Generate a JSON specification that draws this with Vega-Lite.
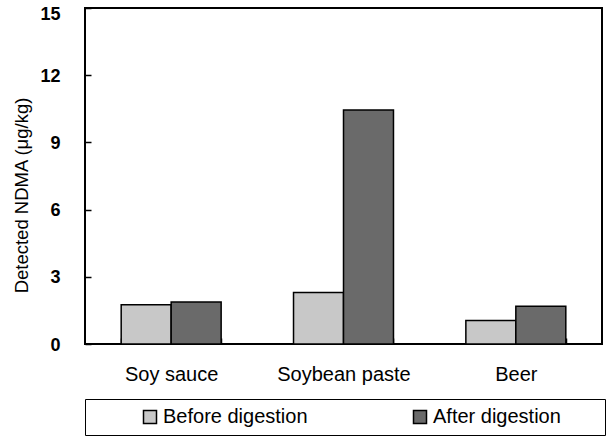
{
  "$schema": "https://vega.github.io/schema/vega-lite/v6.json",
  "width": 517,
  "height": 336,
  "autosize": {"type": "none"},
  "padding": {"left": 85, "top": 8, "right": 4, "bottom": 92},
  "background": "white",
  "config": {
    "font": "Liberation Sans",
    "view": {"stroke": "black", "strokeWidth": 2}
  },
  "data": {
    "values": [
      {"food": "Soy sauce", "stage": "Before digestion", "ndma": 1.75},
      {"food": "Soy sauce", "stage": "After digestion", "ndma": 1.88},
      {"food": "Soybean paste", "stage": "Before digestion", "ndma": 2.3},
      {"food": "Soybean paste", "stage": "After digestion", "ndma": 10.45},
      {"food": "Beer", "stage": "Before digestion", "ndma": 1.05},
      {"food": "Beer", "stage": "After digestion", "ndma": 1.68}
    ]
  },
  "mark": {"type": "bar", "stroke": "black", "strokeWidth": 1.5},
  "encoding": {
    "x": {
      "field": "food",
      "type": "nominal",
      "sort": ["Soy sauce", "Soybean paste", "Beer"],
      "scale": {"paddingInner": 0.42, "paddingOuter": 0.21},
      "axis": {
        "title": null,
        "labelAngle": 0,
        "labelFontSize": 20,
        "labelColor": "black",
        "labelPadding": 26,
        "tickBand": "extent",
        "tickSize": -6,
        "tickColor": "black",
        "tickWidth": 1.5,
        "domain": false
      }
    },
    "xOffset": {
      "field": "stage",
      "type": "nominal",
      "sort": ["Before digestion", "After digestion"],
      "scale": {"paddingInner": 0, "paddingOuter": 0}
    },
    "y": {
      "field": "ndma",
      "type": "quantitative",
      "scale": {"domain": [0, 15], "nice": false},
      "axis": {
        "values": [0, 3, 6, 9, 12, 15],
        "title": "Detected  NDMA (μg/kg)",
        "titleFontSize": 18.5,
        "titleFontWeight": "normal",
        "titleColor": "black",
        "titlePadding": 8,
        "titleY": 187,
        "labelFontSize": 18,
        "labelFontWeight": "bold",
        "labelColor": "black",
        "labelPadding": 31,
        "labelOffset": {"condition": {"test": "datum.value === 15", "value": 6}, "value": 1},
        "tickSize": -6,
        "tickColor": "black",
        "tickWidth": 1.5,
        "grid": false,
        "domain": false
      }
    },
    "fill": {
      "field": "stage",
      "type": "nominal",
      "sort": ["Before digestion", "After digestion"],
      "scale": {"range": ["#c8c8c8", "#6a6a6a"]},
      "legend": {
        "orient": "none",
        "legendX": 0,
        "legendY": 391,
        "direction": "horizontal",
        "title": "MMM",
        "titleOrient": "right",
        "titleColor": "transparent",
        "titleFontSize": 12,
        "titlePadding": 6,
        "strokeColor": "black",
        "padding": 8,
        "symbolType": "square",
        "symbolSize": 169,
        "symbolStrokeColor": "black",
        "symbolStrokeWidth": 1.5,
        "symbolOffset": 47,
        "columnPadding": 55,
        "labelFontSize": 20,
        "labelColor": "black",
        "labelOffset": 3,
        "labelLimit": 400
      }
    }
  }
}
